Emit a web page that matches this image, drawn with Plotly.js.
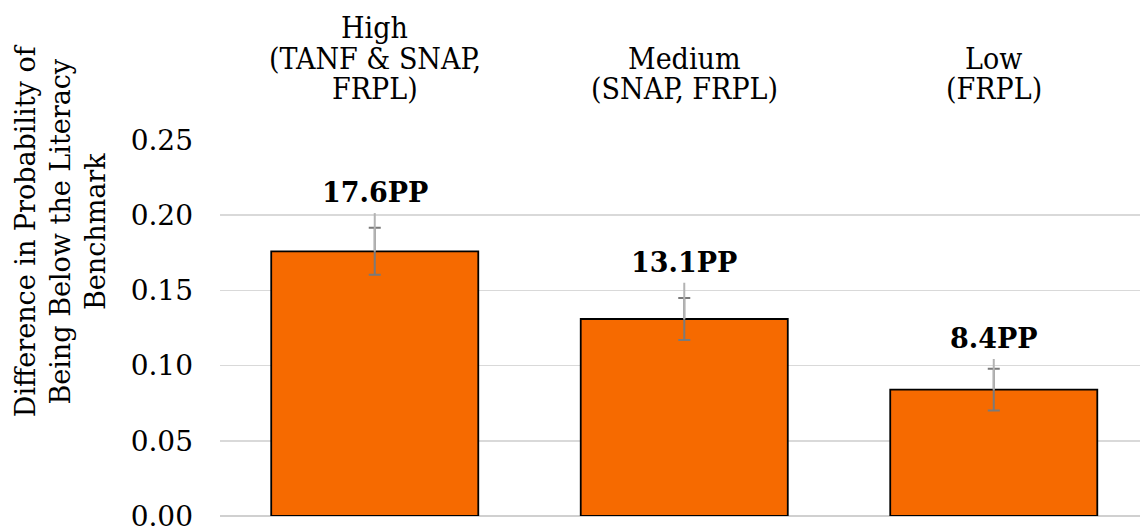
<!DOCTYPE html>
<html>
<head>
<meta charset="utf-8">
<script src="https://cdn.plot.ly/plotly-3.0.1.min.js"></script>
<style>
html,body{margin:0;padding:0;overflow:hidden;background:#fff;}
#chart{width:1140px;height:529px;}
</style>
</head>
<body>
<div id="chart"></div>
<script>
// ---- data ----
var categories = ['High', 'Medium', 'Low'];
var values = [0.176, 0.131, 0.084];
var ciHalf = [0.0156, 0.0139, 0.0139];
var whiskerUp = [0.0254, 0.0241, 0.0204];
var valueLabels = ['17.6PP', '13.1PP', '8.4PP'];
var categoryLines = [
  ['High', '(TANF & SNAP,', 'FRPL)'],
  ['Medium', '(SNAP, FRPL)'],
  ['Low', '(FRPL)']
];
var yTickVals = [0, 0.05, 0.10, 0.15, 0.20, 0.25];
var yTitleLines = ['Difference in Probability of', 'Being Below the Literacy', 'Benchmark'];

var serifCat = 'DejaVu Serif Condensed, DejaVu Serif, serif';
var serifMain = 'DejaVu Serif, serif';

// ---- traces ----
var barTrace = {
  type: 'bar',
  x: categories,
  y: values,
  width: 0.669,
  marker: {color: '#F66A00', line: {color: '#000000', width: 1.8}},
  error_y: {type: 'data', array: ciHalf, visible: true, color: '#7a7a7a', thickness: 2, width: 6},
  hoverinfo: 'none'
};
var whiskerTrace = {
  type: 'scatter',
  mode: 'markers',
  x: categories,
  y: values,
  marker: {opacity: 0, size: 1},
  error_y: {type: 'data', symmetric: false, array: whiskerUp, arrayminus: values.map(function(){return 0;}),
            visible: true, color: '#b3b3b3', thickness: 2, width: 0},
  hoverinfo: 'none',
  showlegend: false
};

// ---- annotations ----
var annotations = [];
var rowShift = [112.7, 82, 51.7];
for (var i = 0; i < categories.length; i++) {
  annotations.push({
    x: categories[i], y: values[i] + whiskerUp[i], xref: 'x', yref: 'y',
    text: valueLabels[i], showarrow: false, yanchor: 'bottom', yshift: 3,
    font: {family: serifMain, size: 27, color: '#000', weight: 'bold'}
  });
  var lines = categoryLines[i];
  var startRow = 3 - lines.length;
  for (var j = 0; j < lines.length; j++) {
    annotations.push({
      x: categories[i], y: 1, xref: 'x', yref: 'paper',
      text: lines[j], showarrow: false, yanchor: 'middle', yshift: rowShift[startRow + j],
      font: {family: serifCat, size: 30, color: '#000'}
    });
  }
}
annotations.push({
  x: -0.1740, y: 0.76, xref: 'paper', yref: 'paper',
  text: yTitleLines.join('<br>'), showarrow: false, textangle: -90,
  xanchor: 'center', yanchor: 'middle',
  font: {family: serifMain, size: 27, color: '#000'}
});

var layout = {
  width: 1140, height: 529,
  margin: {l: 220, r: 0, t: 139.7, b: 12.7, pad: 0},
  paper_bgcolor: '#ffffff', plot_bgcolor: '#ffffff',
  showlegend: false,
  xaxis: {
    type: 'category', range: [-0.5, 2.4725], showticklabels: false,
    showgrid: false, zeroline: false, showline: false, fixedrange: true
  },
  yaxis: {
    range: [0, 0.25], tickvals: yTickVals, tickformat: '.2f',
    showgrid: true, gridcolor: '#d9d9d9', gridwidth: 1.5,
    zeroline: true, zerolinecolor: '#d0d0d0', zerolinewidth: 1.5,
    showline: false, ticks: '', ticklabelstandoff: 26, ticklabeloverflow: 'allow',
    tickfont: {family: serifMain, size: 28, color: '#000'},
    fixedrange: true
  },
  annotations: annotations,
  hovermode: false
};

Plotly.newPlot('chart', [barTrace, whiskerTrace], layout, {displayModeBar: false, staticPlot: true});
</script>
</body>
</html>
